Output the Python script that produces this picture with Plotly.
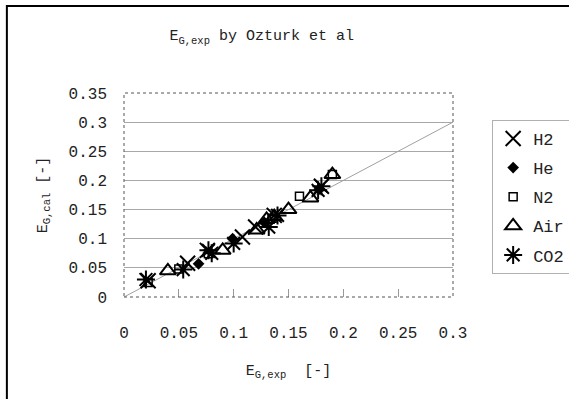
import plotly.graph_objects as go

# Gas holdup: experimental vs calculated, per gas
h2_exp = [0.022, 0.058, 0.076, 0.108, 0.120, 0.137, 0.180]
h2_cal = [0.028, 0.058, 0.080, 0.103, 0.120, 0.140, 0.190]

he_exp = [0.068, 0.099, 0.128, 0.178]
he_cal = [0.057, 0.100, 0.128, 0.185]

n2_exp = [0.022, 0.050, 0.077, 0.135, 0.160, 0.190]
n2_cal = [0.025, 0.048, 0.074, 0.135, 0.173, 0.210]

air_exp = [0.040, 0.090, 0.121, 0.130, 0.137, 0.150, 0.170, 0.190]
air_cal = [0.045, 0.080, 0.115, 0.133, 0.138, 0.150, 0.170, 0.210]

co2_exp = [0.020, 0.054, 0.077, 0.080, 0.100, 0.132, 0.140, 0.177, 0.180]
co2_cal = [0.030, 0.047, 0.080, 0.075, 0.092, 0.120, 0.140, 0.183, 0.190]

diag = [0.0, 0.3]

x_ticks = [0, 0.05, 0.1, 0.15, 0.2, 0.25, 0.3]
x_tick_text = ["0", "0.05", "0.1", "0.15", "0.2", "0.25", "0.3"]
y_ticks = [0, 0.05, 0.1, 0.15, 0.2, 0.25, 0.3, 0.35]
y_tick_text = ["0", "0.05", "0.1", "0.15", "0.2", "0.25", "0.3", "0.35"]

FONT = "Liberation Mono"

fig = go.Figure()

fig.add_trace(go.Scatter(x=diag, y=diag, mode="lines",
                         line=dict(color="#a0a0a0", width=1),
                         showlegend=False, hoverinfo="skip"))

series = [
    ("H2", h2_exp, h2_cal, dict(symbol="x-thin-open", size=15, line=dict(color="black", width=2))),
    ("He", he_exp, he_cal, dict(symbol="diamond", size=9, line=dict(color="black", width=0))),
    ("N2", n2_exp, n2_cal, dict(symbol="square-open", size=8, line=dict(color="black", width=1.5))),
    ("Air", air_exp, air_cal, dict(symbol="triangle-up-open", size=14, line=dict(color="black", width=2))),
    ("CO2", co2_exp, co2_cal, dict(symbol="asterisk-open", size=15, line=dict(color="black", width=2))),
]
for name, xs, ys, mk in series:
    mk["color"] = "black"
    fig.add_trace(go.Scatter(x=xs, y=ys, mode="markers", name=name,
                             legendgroup=name, marker=mk))

fig.update_layout(
    width=569, height=399,
    margin=dict(l=124, r=116, t=93, b=102, autoexpand=False),
    paper_bgcolor="white", plot_bgcolor="white",
    font=dict(family=FONT, size=15, color="#222"),
    title=dict(text="E<sub>G,exp</sub> by Ozturk et al", x=0.46, xanchor="center",
               y=0.912, yanchor="middle", font=dict(family=FONT, size=15, color="#222")),
    xaxis=dict(range=[0, 0.3], tickvals=x_ticks, ticktext=x_tick_text,
               showgrid=False, zeroline=False, showline=False,
               ticks="inside", ticklen=8, tickcolor="#999", tickwidth=1,
               ticklabelstandoff=24,
               tickfont=dict(family=FONT, size=16, color="#222"),
               title=dict(text="E<sub>G,exp</sub>  [-]", standoff=22,
                          font=dict(family=FONT, size=15, color="#222"))),
    yaxis=dict(range=[0, 0.35], tickvals=y_ticks, ticktext=y_tick_text,
               showgrid=True, gridcolor="#a8a8a8", gridwidth=1,
               zeroline=False, showline=False, ticks="", ticklabelstandoff=16,
               tickfont=dict(family=FONT, size=16, color="#222"),
               title=dict(text="E<sub>G,cal</sub> [-]", standoff=17,
                          font=dict(family=FONT, size=15, color="#222"))),
    legend=dict(x=1.119, y=0.868, xanchor="left", yanchor="top",
                bordercolor="#b0b0b0", borderwidth=1, bgcolor="white",
                font=dict(family=FONT, size=17, color="#222"),
                itemwidth=30, tracegroupgap=4),
    shapes=[
        # dotted frame around the plot area
        dict(type="rect", xref="x domain", yref="y domain", x0=0, x1=1, y0=0, y1=1,
             line=dict(color="#555", width=1, dash="dot"), layer="above"),
        # outer chart frame
        dict(type="rect", xref="paper", yref="paper", x0=-0.356, x1=1.40, y0=-0.55, y1=1.426,
             line=dict(color="black", width=2), layer="below"),
    ],
)

fig.write_html("out.html")
